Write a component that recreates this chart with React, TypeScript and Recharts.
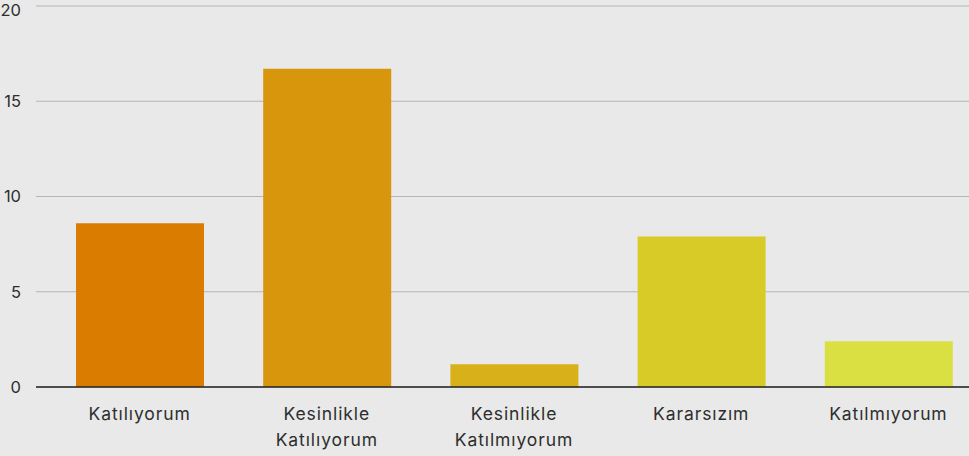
import { BarChart, Bar, XAxis, YAxis, CartesianGrid, Cell } from "recharts";

const KATEGORILER = [
  "Katılıyorum",
  "Kesinlikle Katılıyorum",
  "Kesinlikle Katılmıyorum",
  "Kararsızım",
  "Katılmıyorum",
];
const DEGERLER = [8.6, 16.7, 1.2, 7.9, 2.4];
const Y_TICKS = [0, 5, 10, 15, 20];

const RENKLER = ["#d97c00", "#d8960c", "#d8b01a", "#d8cb28", "#dbe042"];
const FONT = "Inter, 'Open Sans', sans-serif";

const veri = KATEGORILER.map((k, i) => ({ name: k, value: DEGERLER[i] }));

// Etiketleri boşluktan bölüp iki satıra yazıyoruz (referansta öyle).
function Etiket(props: any) {
  const { x, y, payload } = props;
  const satirlar = String(payload.value).split(" ");
  return (
    <g transform={`translate(${x},${y})`}>
      {satirlar.map((s, i) => (
        <text
          key={i}
          x={0}
          y={i * 26}
          dy={25}
          textAnchor="middle"
          fill="#2e2e2e"
          fontSize={17.5}
          letterSpacing={0.9}
          fontFamily={FONT}
        >
          {s}
        </text>
      ))}
    </g>
  );
}

export default function App() {
  return (
    <div
      style={{
        position: "absolute",
        left: 0,
        top: 0,
        width: 969,
        height: 456,
        overflow: "hidden",
        background: "#e8e9e8",
      }}
    >
      <BarChart
        width={982}
        height={456}
        data={veri}
        margin={{ top: 6, right: 0, bottom: 0, left: 0 }}
      >
        <CartesianGrid vertical={false} stroke="#b4b6b4" strokeWidth={1.2} />
        <XAxis
          dataKey="name"
          height={69}
          interval={0}
          padding={{ left: 10, right: 0 }}
          axisLine={{ stroke: "#222", strokeWidth: 1.5 }}
          tickLine={false}
          tick={<Etiket />}
        />
        <YAxis
          width={36}
          domain={[0, 20]}
          ticks={Y_TICKS}
          axisLine={false}
          tickLine={false}
          tickMargin={9}
          tick={{ fontSize: 16.5, fill: "#2e2e2e", fontFamily: FONT }}
        />
        <Bar dataKey="value" barSize={128} isAnimationActive={false}>
          {veri.map((_, i) => (
            <Cell key={i} fill={RENKLER[i]} />
          ))}
        </Bar>
      </BarChart>
    </div>
  );
}
